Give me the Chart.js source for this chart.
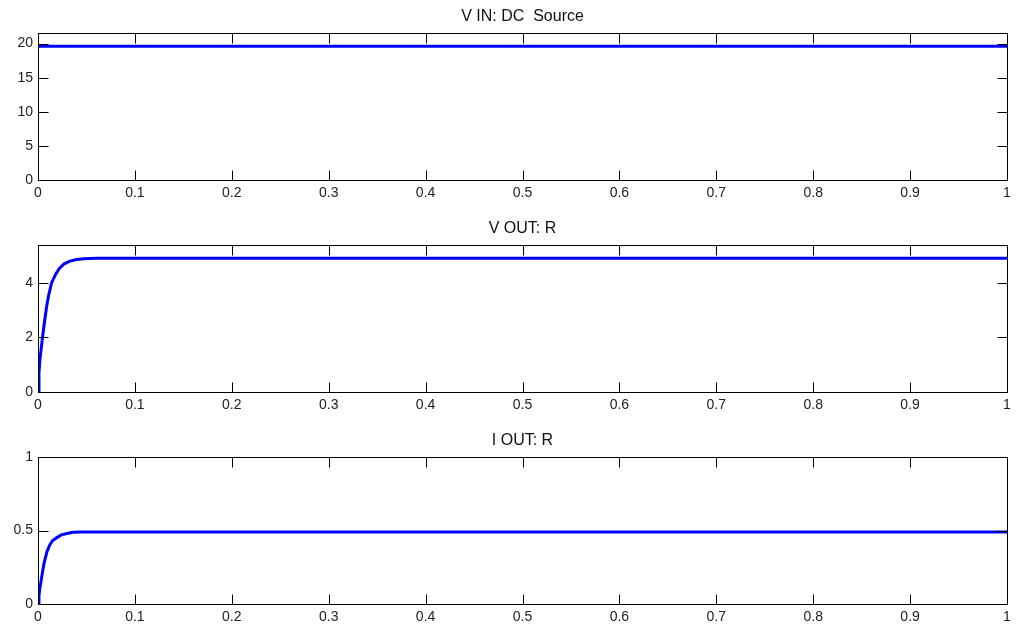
<!DOCTYPE html>
<html>
<head>
<meta charset="utf-8">
<script src="https://cdn.jsdelivr.net/npm/chart.js@4/dist/chart.umd.min.js"></script>
<style>
  html, body { margin: 0; padding: 0; background: #ffffff; overflow: hidden; }
  body { width: 1018px; height: 628px; position: relative; }
  .panel { position: absolute; left: 0; width: 1018px; height: 212px; }
</style>
</head>
<body>
<div class="panel" style="top:0px"><canvas id="c1"></canvas></div>
<div class="panel" style="top:212px"><canvas id="c2"></canvas></div>
<div class="panel" style="top:424px"><canvas id="c3"></canvas></div>
<script>
// ---- data ----
const titles = ['V IN: DC  Source', 'V OUT: R', 'I OUT: R'];
const xTicks = [0, 0.1, 0.2, 0.3, 0.4, 0.5, 0.6, 0.7, 0.8, 0.9, 1];
const xTickLabels = ['0', '0.1', '0.2', '0.3', '0.4', '0.5', '0.6', '0.7', '0.8', '0.9', '1'];

const tIn = [0, 1];
const vIn = [19.6, 19.6];

const tVout = [0, 0.001, 0.002, 0.003, 0.005, 0.007, 0.009, 0.011, 0.014, 0.018, 0.022, 0.027, 0.033, 0.04, 0.047, 0.06, 1];
const vOut  = [0, 0.7, 1.2, 1.5, 2.1, 2.65, 3.15, 3.55, 4.0, 4.3, 4.53, 4.7, 4.8, 4.86, 4.89, 4.9, 4.9];

const tIout = [0, 0.001, 0.002, 0.004, 0.006, 0.009, 0.012, 0.015, 0.019, 0.024, 0.03, 0.036, 0.045, 1];
const iOut  = [0, 0.06, 0.11, 0.19, 0.27, 0.35, 0.40, 0.43, 0.45, 0.47, 0.48, 0.488, 0.49, 0.49];

const yTicks1 = [0, 5, 10, 15, 20];
const yTicks2 = [0, 2, 4];
const yTicks3 = [0, 0.5, 1];
const yMax = [21.56, 5.39, 1];

// ---- drawing ----
const FONT = "'Liberation Sans', Arial, sans-serif";

const boxPlugin = {
  id: 'matlabBox',
  afterDraw(chart) {
    const { ctx, chartArea: a, scales } = chart;
    ctx.save();
    ctx.strokeStyle = '#000';
    ctx.lineWidth = 1;
    const L = Math.round(a.left) + 0.5, R = Math.round(a.right) + 0.5;
    const T = Math.round(a.top) + 0.5, B = Math.round(a.bottom) + 0.5;
    ctx.beginPath();
    const len = 10;
    scales.x.ticks.forEach(t => {
      const px = Math.round(scales.x.getPixelForValue(t.value)) + 0.5;
      ctx.moveTo(px, B); ctx.lineTo(px, B - len);
      ctx.moveTo(px, T); ctx.lineTo(px, T + len);
    });
    scales.y.ticks.forEach(t => {
      const py = Math.round(scales.y.getPixelForValue(t.value)) + 0.5;
      ctx.moveTo(L, py); ctx.lineTo(L + len, py);
      ctx.moveTo(R, py); ctx.lineTo(R - len, py);
    });
    ctx.stroke();
    ctx.strokeRect(L, T, R - L, B - T);
    ctx.restore();
  }
};

function makeChart(id, title, xs, ys, yT, ymax) {
  const pts = xs.map((x, i) => ({ x: x, y: ys[i] }));
  return new Chart(document.getElementById(id), {
    type: 'line',
    data: { datasets: [{ data: pts, borderColor: '#0000ff', borderWidth: 3, pointRadius: 0, tension: 0, fill: false }] },
    options: {
      responsive: true, maintainAspectRatio: false, animation: false, devicePixelRatio: 1,
      layout: { padding: { left: 0, right: 11, top: 0, bottom: 0 } },
      plugins: {
        legend: { display: false },
        tooltip: { enabled: false },
        title: { display: true, fullSize: false, text: title, color: '#111', font: { family: FONT, size: 16, weight: 'normal', lineHeight: 1.2 }, padding: { top: 7, bottom: 6.8 } }
      },
      scales: {
        x: {
          type: 'linear', min: 0, max: 1,
          afterBuildTicks: s => { s.ticks = xTicks.map(v => ({ value: v })); },
          afterFit: s => { s.height = 32; },
          ticks: { autoSkip: false, maxRotation: 0, padding: 5, color: '#222', font: { family: FONT, size: 14 },
                   callback: (v, i) => xTickLabels[i] },
          grid: { display: false, drawTicks: false },
          border: { display: false }
        },
        y: {
          type: 'linear', min: 0, max: ymax,
          afterBuildTicks: s => { s.ticks = yT.map(v => ({ value: v })); },
          afterFit: s => { s.width = 38; },
          ticks: { autoSkip: false, padding: 5, color: '#222', font: { family: FONT, size: 14 },
                   callback: v => String(v) },
          grid: { display: false, drawTicks: false },
          border: { display: false }
        }
      }
    },
    plugins: [boxPlugin]
  });
}

makeChart('c1', titles[0], tIn, vIn, yTicks1, yMax[0]);
makeChart('c2', titles[1], tVout, vOut, yTicks2, yMax[1]);
makeChart('c3', titles[2], tIout, iOut, yTicks3, yMax[2]);
</script>
</body>
</html>
